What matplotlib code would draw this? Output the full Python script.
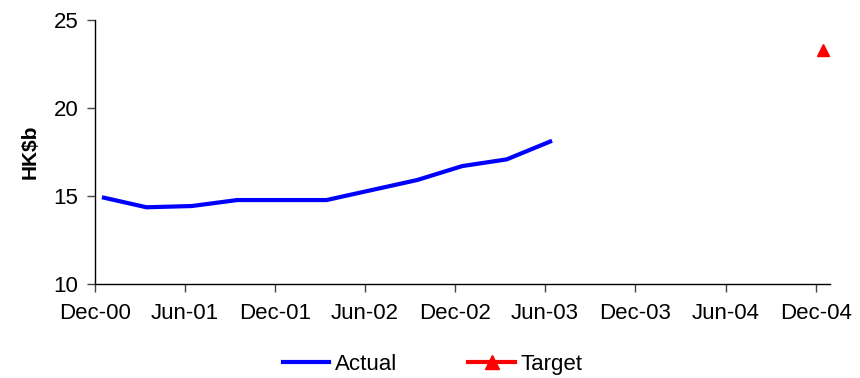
import numpy as np
import pandas as pd
import matplotlib
matplotlib.use("Agg")
import matplotlib.pyplot as plt
from matplotlib.lines import Line2D

plt.rcParams['font.family'] = ['Liberation Sans', 'DejaVu Sans']

# quarterly actuals (HK$b) and the end-2004 target
actual_dates = ["2000-12-15", "2001-03-15", "2001-06-15", "2001-09-15",
                "2001-12-15", "2002-03-15", "2002-06-15", "2002-09-15",
                "2002-12-15", "2003-03-15", "2003-06-15"]
actual_values = [14.93, 14.36, 14.43, 14.77, 14.77, 14.77, 15.34, 15.91,
                 16.70, 17.08, 18.14]
target_dates = ["2004-12-15"]
target_values = [23.3]

tick_dates = ["2000-12-01", "2001-06-01", "2001-12-01", "2002-06-01",
              "2002-12-01", "2003-06-01", "2003-12-01", "2004-06-01",
              "2004-12-01"]
tick_labels = ["Dec-00", "Jun-01", "Dec-01", "Jun-02", "Dec-02", "Jun-03",
               "Dec-03", "Jun-04", "Dec-04"]

fig = plt.figure(figsize=(8.6, 3.78), dpi=100)
ax = fig.add_axes([0.1105, 0.2487, 0.8545, 0.6983])

ax.plot(pd.to_datetime(actual_dates), actual_values, color='#0000ff',
        linewidth=3, label='Actual', solid_capstyle='butt')
ax.plot(pd.to_datetime(target_dates), target_values, color='#ff0000',
        linewidth=3, marker='^', markersize=9, linestyle='none',
        label='Target')

ax.set_ylim(10, 25)
ax.set_yticks([10, 15, 20, 25])
ax.set_xlim(pd.Timestamp("2000-12-01"), pd.Timestamp("2004-12-29"))
ax.set_xticks(pd.to_datetime(tick_dates))
ax.set_xticklabels(tick_labels)

ax.spines['top'].set_visible(False)
ax.spines['right'].set_visible(False)
for s in ['left', 'bottom']:
    ax.spines[s].set_color('#000000')
    ax.spines[s].set_linewidth(1)
ax.tick_params(axis='both', direction='out', length=6, width=1,
               labelsize=16, color='#444444')
ax.tick_params(axis='x', pad=8)
ax.tick_params(axis='y', pad=6)
ax.set_ylabel("HK$b", fontsize=15, fontweight='bold', labelpad=10)

# legend line for Target also shows a red stroke behind the marker
handles = [Line2D([], [], color='#0000ff', linewidth=3),
           Line2D([], [], color='#ff0000', linewidth=3, marker='^',
                  markersize=10)]
fig.legend(handles, ['Actual', 'Target'], loc='center',
           bbox_to_anchor=(0.503, 0.035), ncol=2, frameon=False,
           fontsize=16, handlelength=2.1, handletextpad=0.25,
           columnspacing=3.2)

fig.savefig("out.png", dpi=100)
